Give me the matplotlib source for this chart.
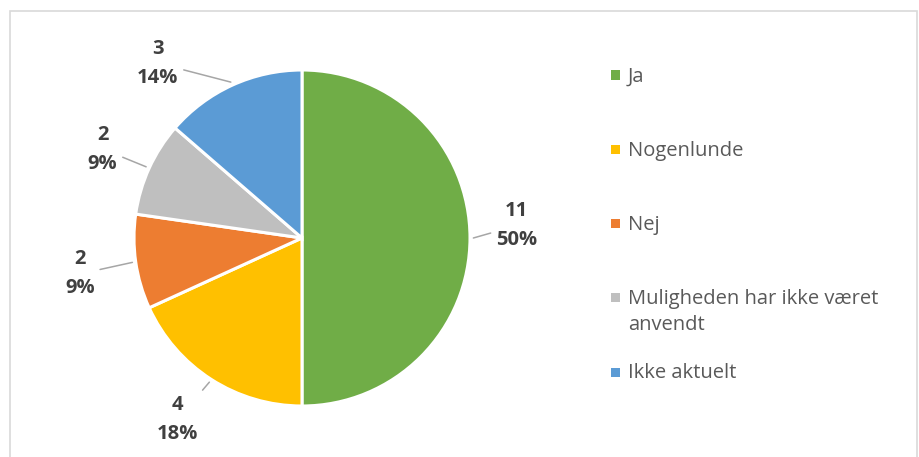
import numpy as np
import matplotlib
matplotlib.use("Agg")
import matplotlib.pyplot as plt
from matplotlib.patches import Rectangle

categories = ["Ja", "Nogenlunde", "Nej", "Muligheden har ikke været anvendt", "Ikke aktuelt"]
legend_labels = ["Ja", "Nogenlunde", "Nej", "Muligheden har ikke været\nanvendt", "Ikke aktuelt"]
counts = [11, 4, 2, 2, 3]
colors = ["#70AD47", "#FFC000", "#ED7D31", "#BFBFBF", "#5B9BD5"]

# label placement (radius in pie units, angle nudge in degrees)
label_r = [1.28, 1.31, 1.34, 1.30, 1.35]
label_nudge = [3.3, -1.7, 1.0, 0.5, 15.0]

W, H = 919, 457
fig = plt.figure(figsize=(W / 100, H / 100), dpi=100)
plt.rcParams["font.family"] = ["Open Sans", "DejaVu Sans"]

# chart border (open at the bottom)
fig.patches.append(Rectangle((10 / W, -0.2), 907 / W, 1.2 - 11 / H,
                             transform=fig.transFigure, fill=False,
                             edgecolor="#D9D9D9", lw=1.2))

cx, cy, R = 302, H - 238, 168
ax = fig.add_axes([(cx - R) / W, (cy - R) / H, 2 * R / W, 2 * R / H])
wedges, _ = ax.pie(counts, colors=colors, startangle=90, counterclock=False,
                   radius=1, wedgeprops=dict(edgecolor="white", linewidth=2.2))
ax.set_xlim(-1, 1)
ax.set_ylim(-1, 1)
ax.axis("off")

total = sum(counts)
for i, w in enumerate(wedges):
    mid = np.radians((w.theta1 + w.theta2) / 2)
    ang = mid + np.radians(label_nudge[i])
    tx, ty = label_r[i] * np.cos(ang), label_r[i] * np.sin(ang)
    ex, ey = 1.02 * np.cos(mid), 1.02 * np.sin(mid)
    pct = round(100 * counts[i] / total)
    ax.annotate(f"{counts[i]}\n{pct}%", xy=(ex, ey), xytext=(tx, ty),
                ha="center", va="center", fontsize=14.5, fontweight="bold",
                color="#404040", linespacing=1.6, annotation_clip=False,
                arrowprops=dict(arrowstyle="-", color="#A6A6A6", lw=1.1,
                                shrinkA=2, shrinkB=0))

# legend drawn by hand to match the spacing of the reference
y0, step = 75, 74.25
for i, lab in enumerate(legend_labels):
    y = y0 + i * step
    fig.patches.append(Rectangle((611 / W, (H - y - 4.5) / H), 9 / W, 9 / H,
                                 transform=fig.transFigure, facecolor=colors[i],
                                 edgecolor="none"))
    fig.text(628 / W, (H - y + 8.5) / H, lab, ha="left", va="top",
             fontsize=14.5, color="#595959", linespacing=1.4,
             transform=fig.transFigure)

fig.savefig("out.png", dpi=100)
